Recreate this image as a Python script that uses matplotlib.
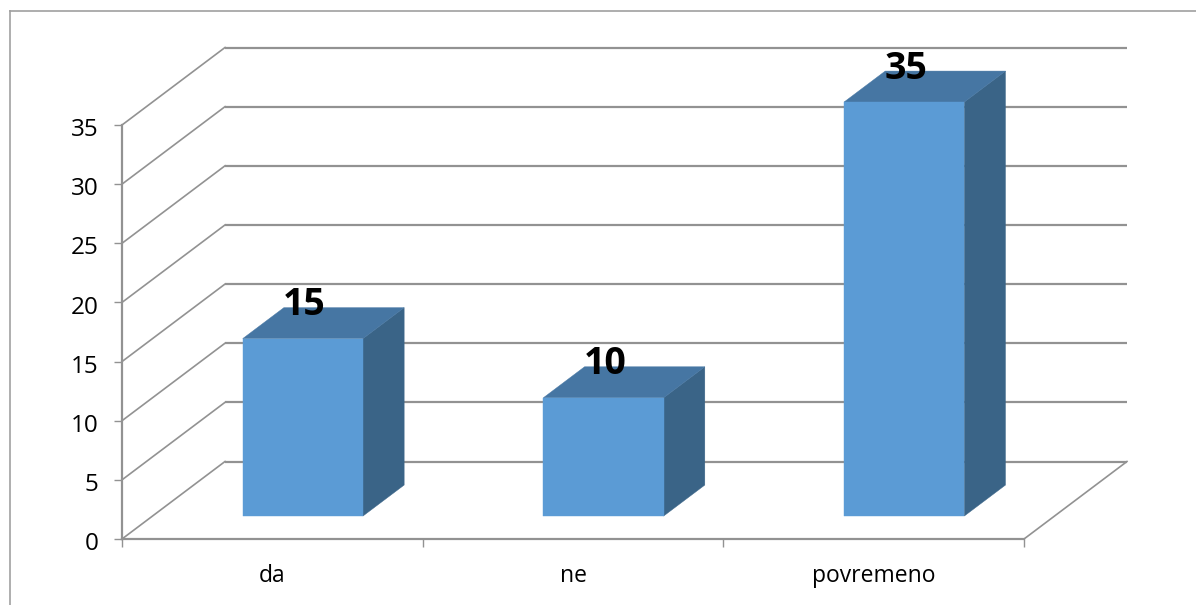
import matplotlib
matplotlib.use("Agg")
import matplotlib.pyplot as plt
from matplotlib.lines import Line2D
from matplotlib.transforms import ScaledTranslation

categories = ["da", "ne", "povremeno"]
values = [15, 10, 35]
y_ticks = [0, 5, 10, 15, 20, 25, 30, 35]

W, H = 1196, 605
GRID = "#929292"
FONT = "Open Sans"

fig = plt.figure(figsize=(W / 100, H / 100), dpi=100, facecolor="white")
ax = fig.add_axes([122 / W, (H - 539) / H, (1024 - 122) / W, (539 - 125) / H])
ax.set_xlim(0, len(categories))
ax.set_ylim(0, 35)
ax.patch.set_alpha(0)

# oblique depth of the 3-D box, in data units
DX = 103 / (902 / 3)
DY = 77.5 / (414 / 35)
BAR_W = 0.4
D0, D1 = 0.296, 0.696


def prj(x, y, d):
    return x + d * DX, y + d * DY


# walls and gridlines
n = len(categories)
for t in y_ticks:
    xs, ys = zip(prj(0, t, 0), prj(0, t, 1))
    ax.plot(xs, ys, color=GRID, lw=1.2, clip_on=False, zorder=1)
    xs, ys = zip(prj(0, t, 1), prj(n, t, 1))
    ax.plot(xs, ys, color=GRID, lw=1.6, clip_on=False, zorder=1, solid_capstyle="butt")
xs, ys = zip(prj(n, 0, 0), prj(n, 0, 1))
ax.plot(xs, ys, color=GRID, lw=1.2, clip_on=False, zorder=1)

# bars
for i, v in enumerate(values):
    l, r = i + 0.5 - BAR_W / 2, i + 0.5 + BAR_W / 2
    front = [prj(l, 0, D0), prj(r, 0, D0), prj(r, v, D0), prj(l, v, D0)]
    side = [prj(r, 0, D0), prj(r, 0, D1), prj(r, v, D1), prj(r, v, D0)]
    top = [prj(l, v, D0), prj(r, v, D0), prj(r, v, D1), prj(l, v, D1)]
    for poly, c in ((side, "#3A6487"), (top, "#4676A3"), (front, "#5B9BD5")):
        ax.fill(*zip(*poly), color=c, lw=0.3, clip_on=False, zorder=3)
    ax.annotate(str(v), xy=prj(i + 0.5, v, D0), xytext=(1.0, 24.0),
                textcoords="offset points", ha="center", va="center",
                fontsize=27, fontweight="bold", fontfamily=FONT, color="black",
                zorder=5, annotation_clip=False)

# axes
for s in ("top", "right"):
    ax.spines[s].set_visible(False)
for s in ("left", "bottom"):
    ax.spines[s].set_color(GRID)
    ax.spines[s].set_linewidth(1.6)
    ax.spines[s].set_zorder(2)
ax.set_yticks(y_ticks)
ax.set_xticks(range(n + 1))
ax.set_xticklabels([])
ax.tick_params(axis="both", length=5.5, width=1.0, color=GRID)
ax.tick_params(axis="y", pad=11.5, labelsize=17.5, labelcolor="black")
shift = ScaledTranslation(0, -1.5 / 72, fig.dpi_scale_trans)
for lab in ax.get_yticklabels():
    lab.set_fontfamily(FONT)
    lab.set_transform(lab.get_transform() + shift)
for i, c in enumerate(categories):
    ax.annotate(c, xy=(i + 0.5, 0), xycoords="data", xytext=(0, -26.5),
                textcoords="offset points", ha="center", va="center",
                fontsize=16.5, fontfamily=FONT, color="black", annotation_clip=False)

# outer chart frame, running off the right and bottom edges
fig.add_artist(Line2D([9.5 / W, 9.5 / W], [0, (H - 10.5) / H], transform=fig.transFigure,
                      color="#A8A8A8", lw=1.3))
fig.add_artist(Line2D([9.5 / W, 1], [(H - 10.5) / H, (H - 10.5) / H], transform=fig.transFigure,
                      color="#A0A0A0", lw=1.2))

fig.savefig("out.png", dpi=100)
